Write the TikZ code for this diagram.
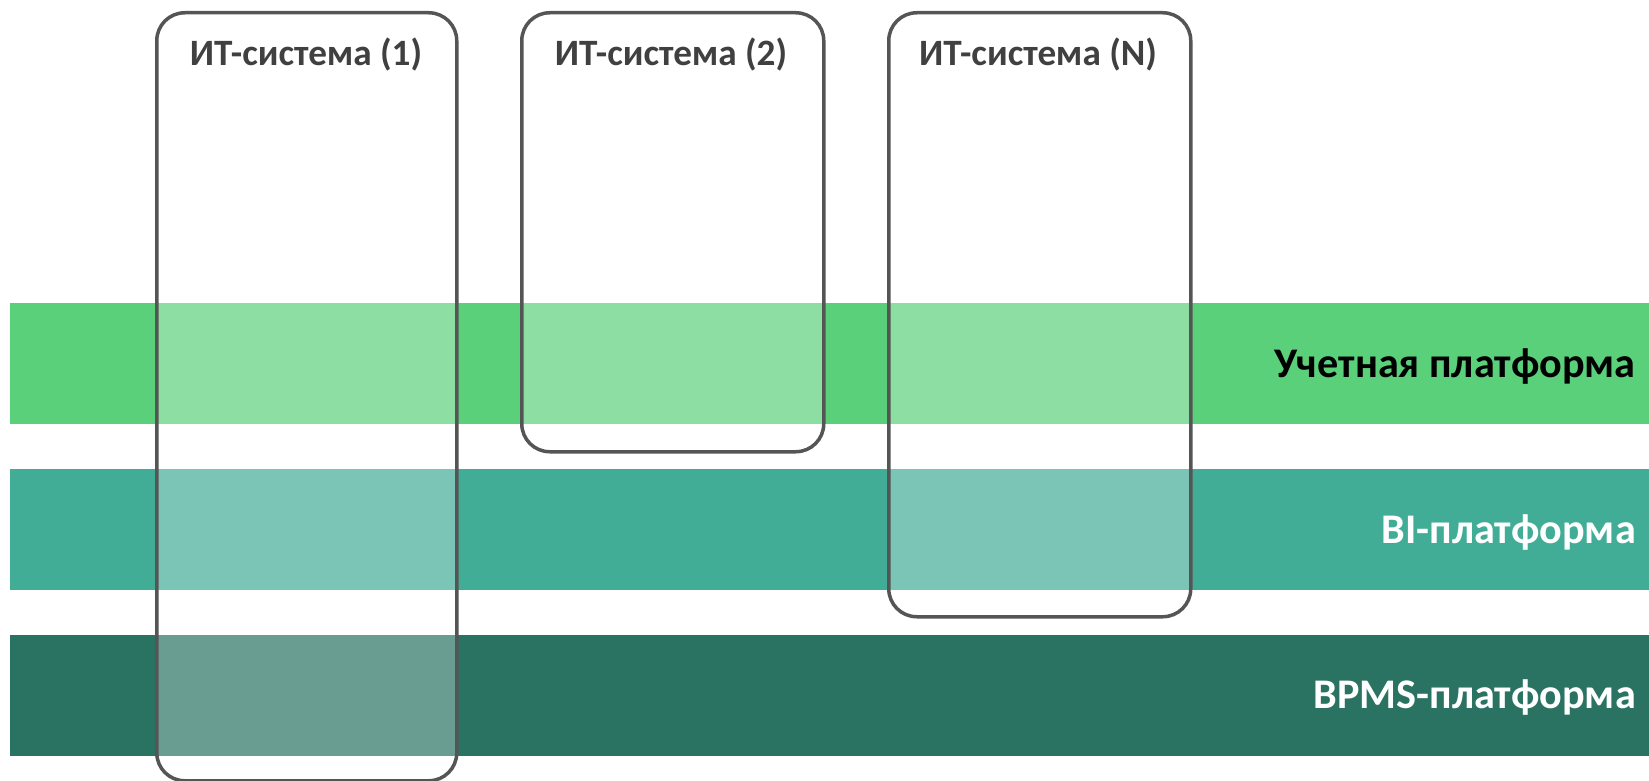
\documentclass[tikz,border=0pt]{standalone}
\usepackage{fontspec}
\setmainfont{Carlito}
\definecolor{bandA}{HTML}{5BD07A}
\definecolor{bandB}{HTML}{41AD96}
\definecolor{bandC}{HTML}{2A7363}
\definecolor{boxline}{HTML}{555555}
\definecolor{titlegray}{HTML}{404040}
\tikzset{
  band/.style={draw=none, minimum width=1639pt, minimum height=121pt, anchor=north west, inner sep=0pt},
  sysbox/.style={draw=boxline, line width=3.5pt, rounded corners=28pt, fill=white, fill opacity=0.3, anchor=north west, inner sep=0pt},
  systitle/.style={font=\fontsize{37.2}{44}\selectfont\bfseries, text=titlegray, anchor=center},
  bandlabel/.style={font=\fontsize{42.2}{50}\selectfont\bfseries, anchor=east, inner sep=0pt}
}
\begin{document}
\begin{tikzpicture}[x=1pt,y=-1pt]
\useasboundingbox (0,0) rectangle (1649,781);
\node[band, fill=bandA] (b1) at (10,303) {};
\node[band, fill=bandB] (b2) at (10,469) {};
\node[band, fill=bandC] (b3) at (10,635) {};
\node[sysbox, minimum width=300pt, minimum height=768pt] (s1) at (155,11) {};
\node[sysbox, minimum width=302pt, minimum height=439pt] (s2) at (520,11) {};
\node[sysbox, minimum width=302pt, minimum height=604pt] (s3) at (887,11) {};
\node[systitle] (t1) at (306,55) {ИТ-система (1)};
\node[systitle] (t2) at (671,55) {ИТ-система (2)};
\node[systitle] (t3) at (1038,55) {ИТ-система (N)};
\node[bandlabel, text=black] (l1) at (1636,366) {Учетная платформа};
\node[bandlabel, text=white] (l2) at (1636,532) {BI-платформа};
\node[bandlabel, text=white] (l3) at (1636,697) {BPMS-платформа};
\end{tikzpicture}
\end{document}
